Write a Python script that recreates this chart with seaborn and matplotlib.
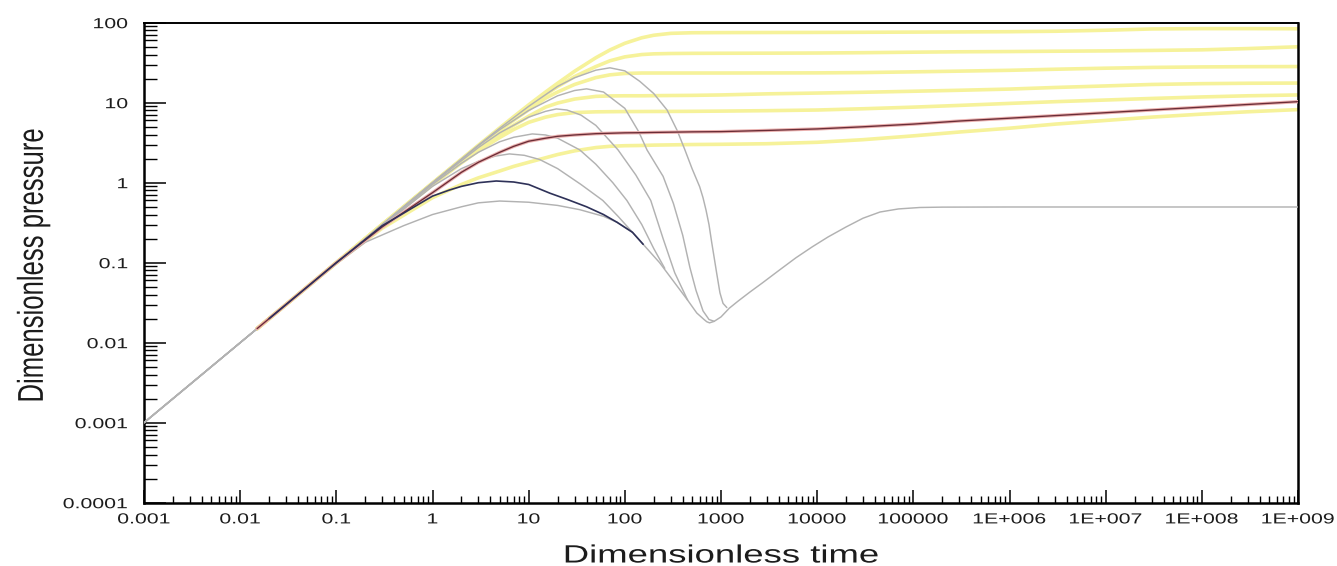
import numpy as np
import pandas as pd
import matplotlib
matplotlib.use("Agg")
import matplotlib.pyplot as plt
import seaborn as sns
from matplotlib import patheffects
from matplotlib.transforms import Affine2D
from matplotlib.ticker import FixedLocator, FixedFormatter, LogLocator, NullFormatter

# ---------------- data ----------------
x_tick_labels = ["0.001", "0.01", "0.1", "1", "10", "100", "1000", "10000",
                 "100000", "1E+006", "1E+007", "1E+008", "1E+009"]
y_tick_labels = ["0.0001", "0.001", "0.01", "0.1", "1", "10", "100"]

# dimensionless pressure curves (shared time grid)
t_pressure = [0.015, 0.03, 0.1, 0.3, 1, 2, 3, 5, 7, 10, 15, 20, 30, 50, 70,
              100, 150, 200, 300, 500, 1e3, 3e3, 1e4, 3e4, 1e5, 3e5, 1e6, 3e6,
              1e7, 3e7, 1e8, 3e8, 1e9]
p_A = [0.015, 0.03, 0.1, 0.3, 0.99, 1.97, 2.94, 4.84, 6.7, 9.4, 13.6, 17.5, 24.7, 36.5, 45.6,
       55.3, 64.8, 69.7, 73.6, 74.9, 75.2, 75.4, 75.6, 75.9, 76.3, 76.7, 77.2, 78.2,
       80.5, 83.5, 84.3, 84.3, 84.0]
p_B = [0.015, 0.03, 0.1, 0.3, 0.99, 1.95, 2.89, 4.7, 6.42, 8.84, 12.7, 15.9, 21.2, 28.3, 33.4,
       37.4, 40.0, 40.8, 41.2, 41.4, 41.5, 41.6, 41.8, 42.2, 42.8, 43.3, 43.6, 44.0,
       44.4, 45.0, 45.8, 47.5, 50.0]
p_C = [0.015, 0.03, 0.1, 0.3, 0.98, 1.92, 2.82, 4.5, 6.06, 8.16, 11.4, 13.6, 16.9, 20.6, 22.3,
       23.2, 23.5, 23.5, 23.5, 23.5, 23.5, 23.55, 23.6, 23.8, 24.3, 24.8, 25.4, 26.2,
       27.0, 27.6, 28.0, 28.2, 28.3]
p_D = [0.015, 0.03, 0.1, 0.3, 0.96, 1.84, 2.66, 4.06, 5.24, 6.77, 8.81, 9.9, 11.1, 12.0, 12.15,
       12.2, 12.2, 12.25, 12.3, 12.35, 12.5, 12.9, 13.2, 13.5, 13.9, 14.3, 14.8, 15.5,
       16.2, 16.9, 17.3, 17.5, 17.6]
p_E = [0.015, 0.03, 0.1, 0.3, 0.94, 1.77, 2.5, 3.67, 4.63, 5.68, 6.6, 7.1, 7.53, 7.69, 7.72,
       7.75, 7.76, 7.77, 7.78, 7.8, 7.85, 7.95, 8.1, 8.4, 8.8, 9.25, 9.8, 10.3,
       10.8, 11.3, 11.8, 12.2, 12.5]
p_F = [0.015, 0.03, 0.1, 0.28, 0.75, 1.35, 1.8, 2.4, 2.85, 3.3, 3.6, 3.8, 3.95, 4.1, 4.15,
       4.2, 4.22, 4.25, 4.28, 4.32, 4.35, 4.5, 4.7, 5.0, 5.4, 5.9, 6.4, 6.9,
       7.5, 8.1, 8.8, 9.5, 10.3]
p_G = [0.015, 0.03, 0.1, 0.27, 0.65, 0.95, 1.15, 1.4, 1.6, 1.8, 2.05, 2.25, 2.5, 2.75, 2.85,
       2.9, 2.92, 2.95, 2.97, 3.0, 3.02, 3.07, 3.2, 3.45, 3.85, 4.3, 4.8, 5.4,
       6.0, 6.6, 7.2, 7.7, 8.2]

# pressure derivative curves
t_dA = [0.001, 0.01, 0.1, 1, 3, 5, 10, 20, 30, 50, 70, 100, 143, 200, 275, 350, 420,
        500, 600, 650, 700, 750, 800, 850, 900, 975, 1050, 1150]
d_A = [0.001, 0.01, 0.1, 1.0, 2.95, 4.8, 9.0, 16.0, 20.5, 25.5, 27.3, 25.0, 18.5, 13.0,
       8.1, 4.5, 2.6, 1.5, 0.89, 0.65, 0.45, 0.3, 0.18, 0.115, 0.075, 0.042, 0.031, 0.0275]
t_dB = [0.001, 0.01, 0.1, 1, 3, 5, 10, 20, 30, 40, 60, 100, 140, 170, 250, 320, 400,
        475, 550, 650, 750, 850]
d_B = [0.001, 0.01, 0.1, 1.0, 2.9, 4.6, 8.0, 12.2, 14.2, 14.9, 13.6, 8.5, 4.3, 2.57,
       1.2, 0.55, 0.22, 0.087, 0.045, 0.025, 0.0195, 0.0185]
t_dC = [0.001, 0.01, 0.1, 1, 3, 5, 10, 15, 19.4, 25, 35, 50, 85, 130, 186, 250, 330, 450]
d_C = [0.001, 0.01, 0.1, 0.98, 2.75, 4.2, 6.6, 7.8, 8.36, 8.1, 7.0, 5.2, 2.57, 1.25,
       0.6, 0.2, 0.075, 0.034]
t_dD = [0.001, 0.01, 0.1, 1, 2, 3, 5, 7, 10.9, 15, 20, 34, 50, 75, 105, 150, 200, 260]
d_D = [0.001, 0.01, 0.1, 0.95, 1.75, 2.4, 3.25, 3.7, 4.07, 3.95, 3.6, 2.57, 1.7, 1.0,
       0.6, 0.3, 0.15, 0.085]
t_dE = [0.001, 0.01, 0.1, 1, 2, 3, 4.5, 6.3, 9, 13, 20, 35, 59, 85, 120]
d_E = [0.001, 0.01, 0.1, 0.9, 1.5, 1.85, 2.15, 2.29, 2.2, 1.95, 1.5, 0.95, 0.6, 0.38, 0.24]
t_dF = [0.02, 0.1, 0.3, 1, 1.5, 2, 3, 4.6, 7, 10, 16.6, 25, 40, 60, 83, 120, 155]
d_F = [0.02, 0.1, 0.29, 0.68, 0.81, 0.9, 1.0, 1.05, 1.02, 0.95, 0.74, 0.62, 0.5,
       0.4, 0.32, 0.24, 0.17]
t_dG = [0.001, 0.01, 0.1, 0.2, 0.5, 1, 2, 3, 5, 10, 20, 34, 60, 83]
d_G = [0.001, 0.01, 0.097, 0.18, 0.29, 0.4, 0.5, 0.56, 0.59, 0.57, 0.52, 0.46, 0.38, 0.32]
# common late-time derivative (dip and 0.5 stabilisation)
t_tail = [83, 120, 155, 230, 330, 450, 560, 660, 710, 760, 850, 1000, 1220, 1500, 2000,
          2700, 4000, 6000, 8900, 13000, 20000, 30000, 45000, 70000, 117000, 200000,
          1e6, 1e7, 1e8, 1e9]
d_tail = [0.32, 0.24, 0.17, 0.1, 0.056, 0.034, 0.0235, 0.0197, 0.0183, 0.0177, 0.0185,
          0.021, 0.027, 0.033, 0.043, 0.056, 0.08, 0.115, 0.158, 0.21, 0.28, 0.36, 0.43,
          0.47, 0.49, 0.495, 0.497, 0.497, 0.497, 0.497]

# ---------------- tables ----------------
def long_table(items):
    rows = []
    for name, tt, vv in items:
        for a, b in zip(tt, vv):
            rows.append((name, a, b))
    return pd.DataFrame(rows, columns=["curve", "t", "v"])

df_yellow = long_table([(n, t_pressure, v) for n, v in
                        [("A", p_A), ("B", p_B), ("C", p_C), ("D", p_D), ("E", p_E), ("G", p_G)]])
df_purple = long_table([("F", t_pressure, p_F)])
df_grey = long_table([("dA", t_dA, d_A), ("dB", t_dB, d_B), ("dC", t_dC, d_C),
                      ("dD", t_dD, d_D), ("dE", t_dE, d_E), ("dG", t_dG, d_G),
                      ("tail", t_tail, d_tail)])
df_blue = long_table([("dF", t_dF, d_F)])

# ---------------- style ----------------
sns.set_theme(style="white")
plt.rcParams["font.family"] = ["Liberation Sans", "DejaVu Sans"]


class Stretch(patheffects.AbstractPathEffect):
    """Draw text glyphs scaled in their own frame (the source image is stretched)."""

    def __init__(self, sx=1.0, sy=1.0, hx="center", vy="center"):
        super().__init__()
        self.sx, self.sy, self.hx, self.vy = sx, sy, hx, vy

    def draw_path(self, renderer, gc, tpath, affine, rgbFace=None):
        ext = tpath.get_extents()
        cx = {"left": ext.x0, "right": ext.x1, "center": 0.5 * (ext.x0 + ext.x1)}[self.hx]
        cy = {"bottom": ext.y0, "top": ext.y1, "center": 0.5 * (ext.y0 + ext.y1)}[self.vy]
        tr = Affine2D().translate(-cx, -cy).scale(self.sx, self.sy).translate(cx, cy) + affine
        renderer.draw_path(gc, tpath, tr, rgbFace)


W, H = 1337, 566
fig = plt.figure(figsize=(W / 100, H / 100), dpi=100)
fig.patch.set_facecolor("white")
ax = fig.add_axes([144 / W, (H - 502.7) / H, (1298 - 144) / W, 480 / H])
ax.set_facecolor("white")
ax.set_xscale("log")
ax.set_yscale("log")

YELLOW = "#f6f29a"
GREY = "#b2b2b2"

sns.lineplot(data=df_yellow, x="t", y="v", units="curve", estimator=None, sort=False,
             color=YELLOW, linewidth=2.6, ax=ax, legend=False, zorder=2)
sns.lineplot(data=df_grey, x="t", y="v", units="curve", estimator=None, sort=False,
             color=GREY, linewidth=1.05, ax=ax, legend=False, zorder=3)
sns.lineplot(data=df_purple, x="t", y="v", estimator=None, sort=False,
             color="#eab0ae", linewidth=2.4, ax=ax, legend=False, zorder=4)
sns.lineplot(data=df_purple, x="t", y="v", estimator=None, sort=False,
             color="#6a2c36", linewidth=0.95, ax=ax, legend=False, zorder=5)
sns.lineplot(data=df_blue, x="t", y="v", estimator=None, sort=False,
             color="#2e3158", linewidth=1.2, ax=ax, legend=False, zorder=5)

ax.set_xlim(1e-3, 1e9)
ax.set_ylim(1e-4, 100)

ax.xaxis.set_major_locator(FixedLocator(10.0 ** np.arange(-3, 10)))
ax.xaxis.set_major_formatter(FixedFormatter(x_tick_labels))
ax.xaxis.set_minor_locator(LogLocator(base=10, subs=np.arange(2, 10), numticks=200))
ax.xaxis.set_minor_formatter(NullFormatter())
ax.yaxis.set_major_locator(FixedLocator(10.0 ** np.arange(-4, 3)))
ax.yaxis.set_major_formatter(FixedFormatter(y_tick_labels))
ax.yaxis.set_minor_locator(LogLocator(base=10, subs=np.arange(2, 10), numticks=200))
ax.yaxis.set_minor_formatter(NullFormatter())

ax.tick_params(axis="x", which="major", direction="in", length=9.4, width=1.1,
               color="black", pad=7, labelsize=10.5, labelcolor="#1c1c1c",
               bottom=True, top=False)
ax.tick_params(axis="x", which="minor", direction="in", length=5.0, width=1.0,
               color="black", bottom=True, top=False)
ax.tick_params(axis="y", which="major", direction="in", length=16, width=1.1,
               color="black", pad=11.5, labelsize=10.5, labelcolor="#1c1c1c",
               left=True, right=False)
ax.tick_params(axis="y", which="minor", direction="in", length=9, width=1.0,
               color="black", left=True, right=False)

for side, lw in [("left", 1.8), ("bottom", 1.8), ("right", 1.8), ("top", 1.4)]:
    ax.spines[side].set_visible(True)
    ax.spines[side].set_color("black")
    ax.spines[side].set_linewidth(lw)

ax.set_xlabel("Dimensionless time", fontsize=18, color="#1c1c1c")
ax.set_ylabel("Dimensionless pressure", fontsize=18.5, color="#1c1c1c")
ax.xaxis.set_label_coords(0.5, (502.7 - 543.5) / 480)
ax.yaxis.set_label_coords((50 - 144) / 1154, 0.495)
ax.grid(False)

fig.canvas.draw()
for lbl in ax.get_xticklabels():
    lbl.set_path_effects([Stretch(sx=1.46, hx="center")])
for lbl in ax.get_yticklabels():
    lbl.set_path_effects([Stretch(sx=1.46, hx="right")])
ax.xaxis.label.set_path_effects([Stretch(sx=1.46, hx="center")])
ax.yaxis.label.set_path_effects([Stretch(sy=1.40, vy="bottom")])

fig.savefig("out.png", dpi=100, facecolor="white")
